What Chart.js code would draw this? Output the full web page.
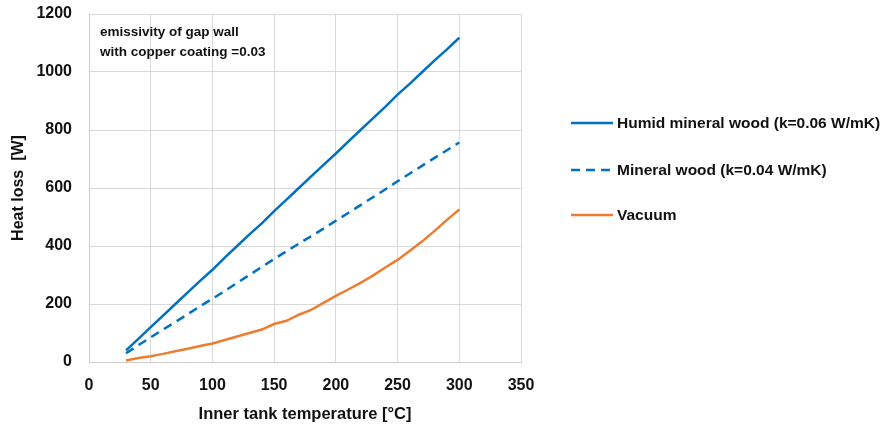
<!DOCTYPE html>
<html>
<head>
<meta charset="utf-8">
<script src="https://cdn.jsdelivr.net/npm/chart.js@4"></script>
<style>
  html, body { margin: 0; padding: 0; background: #fff; }
  #wrap { width: 885px; height: 427px; }
</style>
</head>
<body>
<div id="wrap"><canvas id="heatChart" width="885" height="427"></canvas></div>
<script>
// inner tank temperature, deg C
const temps = [30, 40, 50, 60, 70, 80, 90, 100, 110, 120, 130, 140, 150, 160, 170,
  180, 190, 200, 210, 220, 230, 240, 250, 260, 270, 280, 290, 300];

// heat loss, W
const humidWool = [40, 80, 120, 160, 200, 240, 280, 318, 360, 400, 440, 478, 520, 560, 600,
  640, 680, 719, 760, 800, 840, 880, 922, 960, 1000, 1040, 1078, 1118];
const mineralWool = [30, 58, 85, 112, 138, 165, 192, 218, 245, 273, 300, 328, 355, 382, 408,
  434, 460, 487, 514, 541, 568, 595, 623, 650, 677, 704, 730, 757];
const vacuum = [5, 14, 20, 28, 37, 46, 55, 64, 76, 88, 100, 112, 131, 142, 163,
  180, 204, 228, 250, 273, 298, 326, 352, 384, 416, 452, 490, 526];

const seriesNames = ["Humid mineral wood (k=0.06 W/mK)", "Mineral wood (k=0.04 W/mK)", "Vacuum"];
const noteLines = ["emissivity of gap wall", "with copper coating =0.03"];

const FONT = "'Liberation Sans', Arial, sans-serif";
const BLUE = "#0070C0";
const ORANGE = "#ED7D31";

const toPoints = vals => temps.map((t, i) => ({ x: t, y: vals[i] }));

// legend + text box drawn by hand so the rows can sit where the original has them
const extras = {
  id: "extras",
  afterDraw(chart) {
    const ctx = chart.ctx;
    ctx.save();
    ctx.fillStyle = "#111";
    ctx.font = "bold 13.5px " + FONT;
    ctx.textBaseline = "middle";
    ctx.fillText(noteLines[0], 100, 32);
    ctx.fillText(noteLines[1], 100, 52);

    const rows = [123, 170, 215];
    chart.data.datasets.forEach((ds, i) => {
      ctx.strokeStyle = ds.borderColor;
      ctx.lineWidth = 2.5;
      ctx.setLineDash(ds.borderDash || []);
      ctx.beginPath();
      ctx.moveTo(571, rows[i]);
      ctx.lineTo(613, rows[i]);
      ctx.stroke();
      ctx.setLineDash([]);
      ctx.fillStyle = "#111";
      ctx.font = "bold 15.5px " + FONT;
      ctx.fillText(ds.label, 617, rows[i] + 1);
    });
    ctx.restore();
  }
};

new Chart(document.getElementById("heatChart").getContext("2d"), {
  type: "line",
  data: {
    datasets: [
      { label: seriesNames[0], data: toPoints(humidWool), borderColor: BLUE, borderWidth: 2.5 },
      { label: seriesNames[1], data: toPoints(mineralWool), borderColor: BLUE, borderWidth: 2.5, borderDash: [9, 6] },
      { label: seriesNames[2], data: toPoints(vacuum), borderColor: ORANGE, borderWidth: 2.5 }
    ]
  },
  options: {
    responsive: false,
    animation: false,
    events: [],
    elements: { point: { radius: 0 }, line: { tension: 0, fill: false } },
    layout: { padding: { left: 0, top: 14, right: 364, bottom: 0 } },
    plugins: { legend: { display: false }, tooltip: { enabled: false } },
    scales: {
      x: {
        type: "linear",
        min: 0, max: 350,
        afterFit: s => { s.height = 65; s.paddingLeft = 0; s.paddingRight = 0; },
        ticks: { stepSize: 50, padding: 14, color: "#111", font: { family: FONT, size: 16, weight: "bold" } },
        grid: { color: "#d9d9d9", drawTicks: false },
        border: { color: "#cfcfcf" },
        title: {
          display: true,
          text: "Inner tank temperature [°C]",
          color: "#111",
          font: { family: FONT, size: 16.5, weight: "bold" },
          padding: { top: 0, bottom: 3 }
        }
      },
      y: {
        min: 0, max: 1200,
        afterFit: s => { s.width = 89; s.paddingTop = 0; s.paddingBottom = 0; },
        ticks: {
          stepSize: 200, padding: 17, color: "#111",
          font: { family: FONT, size: 16, weight: "bold" },
          callback: v => String(v)
        },
        grid: { color: "#d9d9d9", drawTicks: false },
        border: { color: "#cfcfcf" },
        title: {
          display: true,
          text: "Heat loss  [W]",
          color: "#111",
          font: { family: FONT, size: 16, weight: "bold" },
          padding: { top: 9, bottom: 0 }
        }
      }
    }
  },
  plugins: [extras]
});
</script>
</body>
</html>
